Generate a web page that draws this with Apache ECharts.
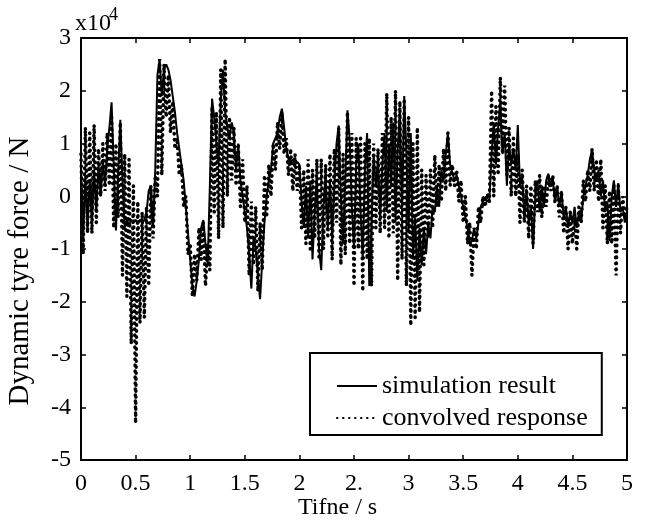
<!DOCTYPE html>
<html>
<head>
<meta charset="utf-8">
<script src="https://cdn.jsdelivr.net/npm/echarts@6/dist/echarts.min.js"></script>
<style>
  html, body { margin: 0; padding: 0; background: #fff; }
  #chart { width: 648px; height: 520px; }
</style>
</head>
<body>
<div id="chart"></div>
<script>
// dynamic tyre force in units of 1e4 N, one sample every 0.02 s from 0 to 5 s
const timeStep = 0.02;

const simulation = [
  0.6, -0.8, 0.4, -0.6, 0.3, -0.5, 0.5, -0.3, 0.6, 0.0,
  0.7, 0.2, 0.9, 1.3, 1.78, 0.6, -0.65, 0.4, 1.45, 0.3,
  -0.6, -0.45, -0.55, -0.45, -0.5, -0.45, -0.5, -0.45, -0.5, -0.45,
  -0.3, 0.1, 0.2, -0.6, 0.5, 2.3, 2.6, 1.9, 2.4, 2.5,
  2.4, 2.2, 1.9, 1.6, 1.2, 0.9, 0.6, 0.3, -0.2, -0.7,
  -1.2, -1.7, -1.9, -1.6, -1.2, -0.6, -0.45, -0.9, -1.3, 0.2,
  1.85, 1.5, 1.0, 0.6, 1.8, 2.4, 1.6, 1.3, 1.1, 1.4,
  1.2, 0.5, 1.0, 0.3, 0.0, -0.3, -0.6, -1.1, -1.75, -0.8,
  -1.0, -1.5, -1.95, -1.2, -0.5, 0.0, 0.3, 0.5, 1.0, 1.1,
  1.2, 1.5, 1.66, 1.3, 0.9, 0.7, 0.65, 0.7, 0.6, 0.65,
  0.6, -0.1, -0.6, 0.2, -0.8, 0.3, -1.2, -0.3, 0.4, -1.0,
  -1.4, -0.2, 0.4, -0.6, 0.3, -0.8, 0.2, 1.0, 1.34, 0.0,
  -0.9, 0.3, 1.63, 1.1, -0.2, -1.0, 0.6, 1.0, -0.3, -1.2,
  0.5, 1.2, -1.7, -0.6, 0.8, 0.2, 0.7, -0.4, 0.6, 1.2,
  -0.3, 1.0, 0.2, 1.4, -0.5, 0.9, 1.6, -0.3, 1.9, 0.8,
  -0.7, 1.2, -1.2, -0.4, -1.6, -0.6, -1.3, -0.6, -1.1, -0.5,
  -0.8, -0.2, -0.3, 0.2, -0.2, 0.5, 0.3, 0.8, 1.2, 0.6,
  0.45, 0.3, 0.4, 0.2, 0.0, -0.2, -0.4, -0.6, -0.9, -0.85,
  -0.6, -0.8, -0.5, -0.2, -0.1, -0.05, -0.1, -0.05, 0.8, 1.4,
  0.6, 1.3, 1.8, 0.8, 1.2, 0.2, 1.0, 0.6, 0.9, 0.5,
  1.35, 0.2, 0.4, -0.4, 0.1, -0.5, -0.2, -1.0, 0.0, 0.3,
  -0.3, 0.2, -0.2, 0.3, 0.43, 0.2, 0.35, -0.1, 0.2, -0.2,
  0.1, -0.4, -0.2, -0.6, -0.3, -0.5, -0.2, -0.6, -0.3, -0.5,
  0.0, 0.2, 0.4, 0.7, 0.87, 0.5, 0.3, 0.5, 0.0, 0.3,
  -0.3, -0.1, -0.85, 0.0, 0.3, -0.2, 0.25, -0.3, -0.2, -0.5,
  -0.3
];

// convolved response swings between its upper and lower envelope at every sample
const convolved = [
  0.8, -1.1, 1.3, -0.7, 1.2, -0.7, 1.35, -0.5, 0.9, 0.0,
  1.0, 0.1, 1.2, 0.2, 1.5, -0.6, 1.0, -0.4, 1.4, -1.5,
  0.8, -1.9, 0.7, -2.8, 0.2, -4.3, -0.1, -2.4, -0.3, -2.3,
  -0.2, -1.7, 0.2, -0.8, 0.4, 0.0, 2.6, 0.4, 2.5, 1.5,
  2.3, 1.2, 1.8, 0.9, 1.1, 0.4, 0.6, -0.2, 0.0, -1.1,
  -0.9, -1.9, -1.1, -1.6, -0.6, -1.2, -0.5, -1.7, -0.9, -1.4,
  1.7, -0.3, 1.6, -0.8, 2.4, -0.6, 2.6, 0.0, 1.5, 0.3,
  1.3, 0.2, 1.0, -0.2, 0.7, -0.5, 0.2, -1.5, -0.1, -1.3,
  -0.2, -1.8, -0.5, -1.4, 0.4, -0.4, 0.6, 0.0, 1.0, 0.5,
  1.4, 0.9, 1.6, 0.8, 1.1, 0.4, 0.9, 0.1, 0.8, 0.1,
  0.6, -0.6, 0.5, -0.9, 0.7, -1.0, 0.5, -0.8, 0.7, -1.2,
  0.7, -1.0, 0.6, -0.8, 0.8, -1.2, 0.9, -0.5, 1.3, -1.3,
  0.8, -1.1, 1.6, -0.9, 1.2, -1.7, 1.1, -1.0, 1.15, -1.8,
  1.0, -1.2, 1.1, -1.7, 1.0, -0.6, 0.9, -0.7, 1.2, -0.6,
  1.95, -0.8, 1.5, -0.7, 2.0, -1.6, 1.8, -1.2, 1.85, -1.7,
  1.5, -2.45, 1.0, -2.3, 1.3, -2.2, 0.5, -1.3, 0.4, -0.8,
  0.5, -0.6, 0.78, -0.2, 0.6, -0.1, 0.9, 0.1, 1.2, 0.2,
  0.6, 0.2, 0.5, -0.1, 0.3, -0.5, 0.0, -0.9, -0.5, -1.5,
  -0.6, -1.0, -0.2, -0.5, 0.0, -0.2, 0.05, -0.1, 2.0, 0.0,
  1.7, 0.4, 2.25, 0.8, 2.1, 0.4, 1.3, 0.0, 1.1, 0.0,
  0.8, -0.5, 0.5, -0.5, 0.2, -0.8, 0.2, -0.9, 0.3, -0.3,
  0.4, -0.4, 0.2, -0.2, 0.4, 0.1, 0.4, -0.1, 0.2, -0.4,
  0.1, -0.7, -0.2, -1.0, -0.3, -0.9, -0.4, -1.0, -0.2, -0.5,
  0.3, -0.1, 0.5, 0.1, 0.9, 0.1, 0.7, -0.1, 0.7, -0.6,
  0.2, -0.9, 0.1, -0.9, 0.2, -1.5, 0.2, -0.7, 0.0, -0.4,
  -0.2
];

const xTickLabels = ['0', '0.5', '1', '1.5', '2', '2.', '3', '3.5', '4', '4.5', '5'];
const yTickLabels = ['-5', '-4', '-3', '-2', '-1', '0', '1', '2', '3'];

const serif = "'Liberation Serif', 'DejaVu Serif', serif";

function toPairs(values) {
  return values.map((v, i) => [+(i * timeStep).toFixed(2), v]);
}

const chart = echarts.init(document.getElementById('chart'));

const tickStyle = { show: true, inside: true, length: 5, lineStyle: { color: '#000', width: 1.5 } };
const lineStyle = { show: true, onZero: false, lineStyle: { color: '#000', width: 2 } };

chart.setOption({
  animation: false,
  backgroundColor: '#fff',
  color: ['#000', '#000'],
  grid: { left: 81, right: 21, top: 38, bottom: 60, outerBoundsMode: 'none', containLabel: false },
  xAxis: [
    {
      type: 'value', min: 0, max: 5, interval: 0.5,
      axisLine: lineStyle, axisTick: tickStyle, splitLine: { show: false },
      axisLabel: {
        color: '#000', fontFamily: serif, fontSize: 24, margin: 12,
        formatter: v => xTickLabels[Math.round(v / 0.5)]
      }
    },
    {
      type: 'value', min: 0, max: 5, interval: 0.5, position: 'top',
      axisLine: lineStyle, axisTick: tickStyle, axisLabel: { show: false }, splitLine: { show: false }
    }
  ],
  yAxis: [
    {
      type: 'value', min: -5, max: 3, interval: 1,
      axisLine: lineStyle, axisTick: tickStyle, splitLine: { show: false },
      axisLabel: {
        color: '#000', fontFamily: serif, fontSize: 24, margin: 10,
        formatter: v => yTickLabels[Math.round(v) + 5]
      },
      name: 'Dynamic tyre force / N', nameLocation: 'middle', nameGap: 46,
      nameTextStyle: { color: '#000', fontFamily: serif, fontSize: 29, padding: [0, 44, 0, 0] }
    },
    {
      type: 'value', min: -5, max: 3, interval: 1, position: 'right',
      axisLine: lineStyle, axisTick: tickStyle, axisLabel: { show: false }, splitLine: { show: false }
    }
  ],
  legend: {
    orient: 'vertical', left: 310, top: 353,
    backgroundColor: '#fff', borderColor: '#000', borderWidth: 2, borderRadius: 0,
    padding: [20, 14, 4, 26], itemGap: 6, itemWidth: 40, itemHeight: 14,
    itemStyle: { color: 'rgba(0,0,0,0)', borderWidth: 0 },
    textStyle: { color: '#000', fontFamily: serif, fontSize: 26 },
    data: ['simulation result', 'convolved response']
  },
  graphic: [
    { type: 'text', left: 75, top: 12, style: { text: 'x10', fontFamily: serif, fontSize: 24, fill: '#000' } },
    { type: 'text', left: 109, top: 6, style: { text: '4', fontFamily: serif, fontSize: 18, fill: '#000' } },
    // x axis title sits a little left of the plot centre, as in the source figure
    { type: 'text', left: 298, top: 496, style: { text: 'Tifne / s', fontFamily: serif, fontSize: 24, fill: '#000' } }
  ],
  series: [
    {
      name: 'simulation result', type: 'line', symbol: 'none',
      data: toPairs(simulation),
      itemStyle: { color: '#000' },
      lineStyle: { color: '#000', width: 2 }
    },
    {
      name: 'convolved response', type: 'line', symbol: 'none',
      data: toPairs(convolved),
      itemStyle: { color: '#000' },
      lineStyle: { color: '#000', width: 3.5, type: [0.5, 5.5], cap: 'round' }
    }
  ]
});
</script>
</body>
</html>
